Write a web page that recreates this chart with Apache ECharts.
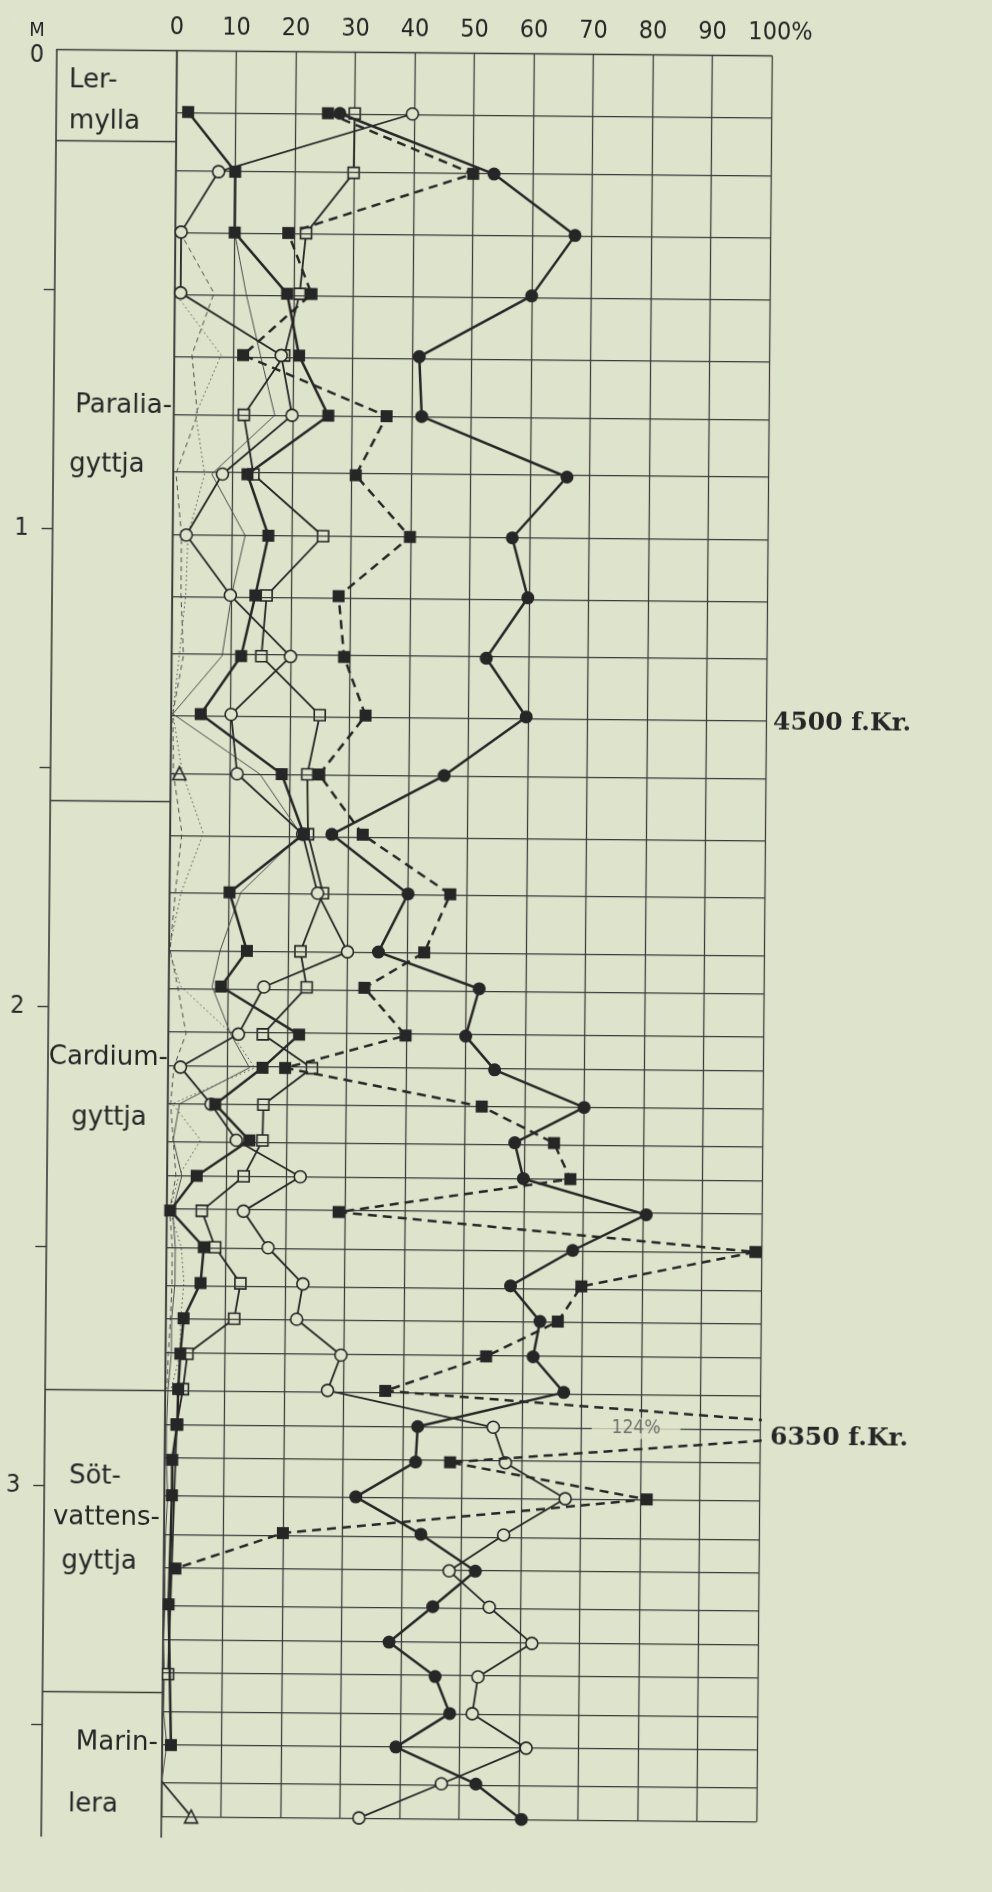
<!DOCTYPE html>
<html><head><meta charset="utf-8">
<script src="https://cdn.jsdelivr.net/npm/echarts@6/dist/echarts.min.js"></script>
<style>
html,body{margin:0;padding:0;background:#dee3cb;overflow:hidden;}
#c{width:992px;height:1892px;transform:rotate(0.5deg);transform-origin:496px 946px;}
</style>
</head><body><div id="c"></div>
<script>
// ---------- DATA (depth in m, values in %) ----------
const rowDepth = [0.128,0.252,0.379,0.506,0.635,0.760,0.884,1.012,1.137,1.264,1.386,1.510,1.635,1.758,1.880,1.955,2.054,2.124,2.201,2.276,2.351,2.424,2.500,2.575,2.649,2.723,2.797,2.871,2.945,3.019,3.096,3.172,3.247,3.322,3.393,3.470,3.541,3.617,3.690];
const filledCircle = [27.5,53.5,67.2,60,41.2,41.7,66.2,57.1,59.8,52.9,59.7,46,27.2,40.1,35.2,52.2,50,54.9,70,58.4,59.9,80.6,68.3,57.9,62.9,61.8,67,42.5,42.2,32.2,43.2,52.4,45.3,38,45.8,48.3,39.3,52.8,60.5];
const filledSquareDashed = [25.5,50,19,23,11.6,35.8,30.7,39.9,28,29,32.7,25,32.4,47.2,42.9,32.9,39.9,19.7,52.8,65,67.8,28.9,99,69.8,65.9,53.9,37,124,48,81.1,20,2,null,null,null,null,null,null,null];
const openCircle = [39.7,7.2,1,1,18,19.9,8.3,2.3,9.8,20,10.1,11.2,22.3,24.9,30,16,11.8,2.1,7.3,11.6,22.4,12.9,17.1,23,22,29.5,27.3,55.2,57.3,67.4,57.1,48,54.8,62,53,52.1,61.2,47,33.2];
const openSquare = [30,29.9,22,21,18.5,11.8,13.5,25.3,15.9,15.1,25,23,23.2,25.8,22.1,23.2,15.9,24.2,16.1,16,12.9,5.9,8.2,12.5,11.5,3.7,3,2,null,null,null,null,null,null,0.9,null,null,null,null];
const filledSquareSolid = [2,10,10,18.9,21,26,12.5,16.1,14,11.7,5,18.7,22.5,10.1,13.1,8.8,22,15.9,8,13.8,5,0.6,6.3,5.8,3,2.5,2.2,2.1,1.3,1.3,null,null,0.9,null,null,null,1.5,null,null];
const openTriangle = [null,null,null,null,null,null,null,null,null,null,null,1.5,null,null,null,null,null,null,null,null,null,null,null,null,null,null,null,null,null,null,null,null,null,null,null,null,null,0,5];
const thinSolid = [null,null,10,12,14.5,17,6.5,12.2,10,8.5,0.3,15,22,12,8.6,7.3,10.5,13.7,2,1,2.5,1,1.5,1.5,1,1,0.5,0.3,0.3,0.6,0.3,0.2,0.3,0.1,0.3,0.2,0.8,0,null];
const thinDashed = [null,null,0.8,6.6,3,4,0.5,1.5,1.5,2,0.3,0.5,2,1,0.2,1.5,3,1,0.5,1,1.5,0.5,1,1,0.8,0.5,0.3,null,null,null,null,null,null,null,null,null,null,null,null];
const thinDotted = [null,null,null,0,7.9,3.7,5.3,2.6,2.3,1.3,0.3,2,5.6,2,0,2,10.7,14.6,0.8,5.6,2,0.5,2.5,3,2.5,2.5,1,null,null,null,null,null,null,null,null,null,null,null,null];
const xTicks = [0,10,20,30,40,50,60,70,80,90,100];
const depthTickLabels = [1,2,3];
const depthMinorTicks = [0.5,1,1.5,2,2.5,3,3.5];
const layerBounds = [0.1937,1.5716,2.7962,3.4330];
const layerNames = [['Ler-','mylla'],['Paralia-','gyttja'],['Cardium-','gyttja'],['Söt-','vattens-','gyttja'],['Marin-','lera']];
const overflowLabel = '124%';
const overflowRow = 27; // index of the 124% sample
const dateLabels = ['4500 f.Kr.', '6350 f.Kr.'];

// ---------- STYLE ----------
const BG = '#dee3cb', INK = '#262626', GRIDC = '#3a3a3a';
const Y0 = 53.5, PXM = 478.5;
const yMaxMain = 3.6905;
const yMaxCol = (1840 - Y0) / PXM;
const SANS = "'DejaVu Sans', sans-serif";
const NARROW = "'Liberation Sans Narrow','DejaVu Sans Condensed',sans-serif";
const SERIF = "'DejaVu Serif','Liberation Serif',serif";
const ROT = Math.sin(0.5*Math.PI/180), CX = 496, CY = 946;
// photo position -> unrotated page position (page is rotated by CSS)
function unrot(x, y){ return [x + (y - CY)*ROT, y - (x - CX)*ROT]; }

function pts(vals){ const out=[]; vals.forEach((v,i)=>{ if(v!==null && v!==undefined) out.push([v,rowDepth[i]]); }); return out; }

const chart = echarts.init(document.getElementById('c'), null, {renderer:'canvas', width:992, height:1892});

const series = [];
series.push({type:'line', xAxisIndex:0, yAxisIndex:0, data:[], silent:true, z:1,
  markLine:{silent:true, animation:false, symbol:['none','none'], label:{show:false}, emphasis:{disabled:true},
    lineStyle:{color:GRIDC, width:1.25, type:'solid'}, data: rowDepth.map(d=>({yAxis:d}))}});
series.push({type:'line', xAxisIndex:1, yAxisIndex:1, data:[], silent:true, z:1,
  markLine:{silent:true, animation:false, symbol:['none','none'], label:{show:false}, emphasis:{disabled:true},
    lineStyle:{color:GRIDC, width:1.4, type:'solid'}, data: layerBounds.map(d=>({yAxis:d}))}});

function thin(vals, type){
  return {type:'line', xAxisIndex:0, yAxisIndex:0, data:pts(vals), showSymbol:false, symbol:'none', silent:true, z:2,
    lineStyle:{color:'#4e4e4e', width:1, type:type}};
}
series.push(thin(thinSolid,'solid'));
series.push(thin(thinDashed,[5,4]));
series.push(thin(thinDotted,[1.5,3]));

series.push({type:'line', xAxisIndex:0, yAxisIndex:0, z:3, silent:true, connectNulls:false, clip:false,
  data: openTriangle.map((v,i)=> v===null ? ['-', rowDepth[i]] : {value:[v,rowDepth[i]], symbol: v===0 ? 'none':'triangle'}),
  symbol:'triangle', symbolSize:13, itemStyle:{color:BG, borderColor:INK, borderWidth:1.6},
  lineStyle:{color:INK, width:1.8}});

function marked(vals, sym, size, filled, lineType, lw, z, clip){
  return {type:'line', xAxisIndex:0, yAxisIndex:0, z:z, silent:true, data:pts(vals), symbol:sym, symbolSize:size, showSymbol:true,
    clip:clip,
    itemStyle: filled ? {color:INK, borderColor:INK, borderWidth:0} : {color:BG, borderColor:INK, borderWidth:1.6},
    lineStyle:{color:INK, width:lw, type:lineType}};
}
series.push(marked(openSquare,'rect',11,false,'solid',1.8,4,false));
series.push(marked(openCircle,'circle',12,false,'solid',1.8,5,false));
series.push(marked(filledSquareSolid,'rect',12,true,'solid',2.5,6,false));
series.push(marked(filledSquareDashed,'rect',12,true,[9,6],2.5,7,true));
series.push(marked(filledCircle,'circle',13,true,'solid',2.5,8,false));

series.push({type:'scatter', xAxisIndex:0, yAxisIndex:0, z:9, silent:true, symbol:'circle', symbolSize:1,
  itemStyle:{color:'rgba(0,0,0,0)'},
  data:[[79.2, rowDepth[overflowRow]]],
  label:{show:true, position:'inside', formatter:overflowLabel, color:'#555', fontFamily:NARROW, fontSize:19,
    backgroundColor:BG, padding:[1,20]}});

const option = {
  backgroundColor: BG,
  animation:false,
  grid:[
    {left:169, top:Y0, width:595, height:yMaxMain*PXM},
    {left:49, top:Y0, width:120, height:yMaxCol*PXM}
  ],
  xAxis:[
    {gridIndex:0, type:'value', min:0, max:100, interval:10, position:'top',
      axisLine:{show:true, onZero:false, lineStyle:{color:GRIDC, width:1.4}},
      axisTick:{show:false},
      axisLabel:{show:true, margin:11, color:INK, fontFamily:NARROW, fontSize:25,
        formatter:v=> (xTicks.indexOf(v)<0 ? '' : (v===100 ? '{p|100%}' : String(v))),
        rich:{p:{fontFamily:NARROW, fontSize:25, color:INK, padding:[0,0,0,17]}}},
      splitLine:{show:true, lineStyle:{color:GRIDC, width:1.25}}},
    {gridIndex:1, type:'value', min:0, max:1, position:'top',
      axisLine:{show:true, onZero:false, lineStyle:{color:GRIDC, width:1.4}},
      axisTick:{show:false}, axisLabel:{show:false}, splitLine:{show:false}}
  ],
  yAxis:[
    {gridIndex:0, type:'value', inverse:true, min:0, max:yMaxMain,
      axisLine:{show:false}, axisTick:{show:false}, axisLabel:{show:false}, splitLine:{show:false}},
    {gridIndex:1, type:'value', inverse:true, min:0, max:yMaxCol, interval:0.5, position:'left',
      axisLine:{show:true, onZero:false, lineStyle:{color:GRIDC, width:1.6}},
      axisTick:{show:true, inside:false, length:11, customValues:depthMinorTicks, lineStyle:{color:GRIDC, width:1.4}},
      axisLabel:{show:true, customValues:depthTickLabels, margin:24, color:INK, fontFamily:NARROW, fontSize:25,
        formatter:v=> (depthTickLabels.indexOf(v)>=0 ? String(v) : '')},
      splitLine:{show:false}},
    {gridIndex:1, type:'value', inverse:true, min:0, max:yMaxCol, position:'right',
      axisLine:{show:true, onZero:false, lineStyle:{color:GRIDC, width:1.6}},
      axisTick:{show:false}, axisLabel:{show:false}, splitLine:{show:false}}
  ],
  series: series
};
chart.setOption(option);

// ---------- annotation texts ----------
function txt(text, px, py, font, align, fill){
  const p = unrot(px, py);
  return {type:'text', x:p[0], y:p[1], silent:true, z:20,
    style:{text:text, font:font, fill:fill||INK, align:align||'center', verticalAlign:'middle'}};
}
const LF = "26px " + SANS;
const DF = "bold 25px " + SERIF;
const els = [
  txt('M', 37, 31, "20px " + NARROW),
  txt('0', 37, 55, "25px " + NARROW),
  txt(layerNames[0][0], 69, 81, LF, 'left'),
  txt(layerNames[0][1], 69, 122, LF, 'left'),
  txt(layerNames[1][0], 172, 406, LF, 'right'),
  txt(layerNames[1][1], 107, 465, LF, 'center'),
  txt(layerNames[2][0], 168, 1058, LF, 'right'),
  txt(layerNames[2][1], 109, 1118, LF, 'center'),
  txt(layerNames[3][0], 69, 1477, LF, 'left'),
  txt(layerNames[3][1], 160, 1518, LF, 'right'),
  txt(layerNames[3][2], 99, 1562, LF, 'center'),
  txt(layerNames[4][0], 158, 1743, LF, 'right'),
  txt(layerNames[4][1], 93, 1805, LF, 'center'),
  txt(dateLabels[0], 773, 723, DF, 'left'),
  txt(dateLabels[1], 770, 1438, DF, 'left')
];
chart.setOption({graphic:{elements:els}});
</script>
</body></html>
